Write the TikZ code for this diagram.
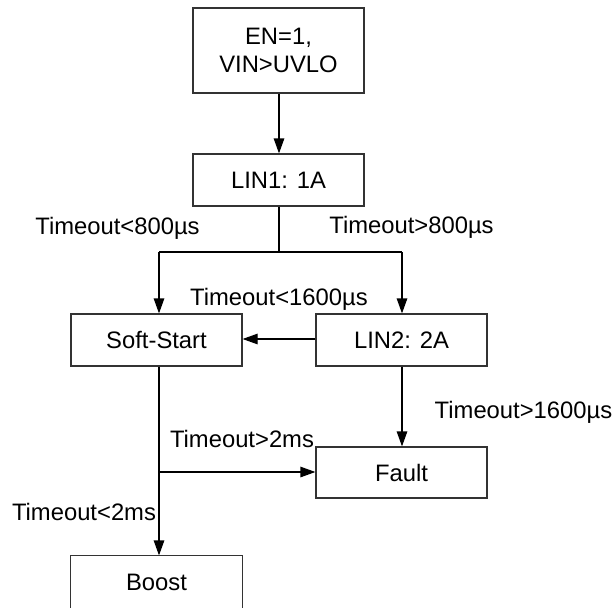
\documentclass[tikz,border=0pt]{standalone}
\usepackage{fontspec}
\setmainfont{Liberation Sans}
\usetikzlibrary{arrows.meta}
\begin{document}
\begin{tikzpicture}[x=1pt,y=-1pt,
  boxline/.style={draw=black!80,line width=1.2pt},
  box/.style={boxline,minimum width=171pt,minimum height=52pt,inner sep=0pt,align=center,font=\fontsize{23.8}{28}\selectfont},
  lbl/.style={inner sep=0pt,font=\fontsize{23.8}{28}\selectfont},
  conn/.style={draw=black,line width=1.2pt},
  arr/.style={conn,-{Triangle[length=15pt,width=10.5pt]}}]
\useasboundingbox (0,0) rectangle (615,607);
\node[box,minimum height=85pt] (en) at (278.5,50.5) {EN=1,\\VIN>UVLO};
\node[box] (lin1) at (278.5,180) {LIN1: 1A};
\node[box] (ss) at (156.5,340) {Soft-Start};
\node[box] (lin2) at (401.5,340) {LIN2: 2A};
\node[box,minimum height=51pt] (fault) at (401.5,472.5) {Fault};
\node[box,draw=none,minimum height=52pt] (boost) at (156.5,582) {Boost};
\draw[boxline] (boost.south west) -- (boost.north west) -- (boost.north east) -- (boost.south east);
% connectors
\coordinate (j1) at (279,252);
\coordinate (jl) at (159,252);
\coordinate (jr) at (402,252);
\coordinate (j2) at (159,472);
\draw[arr] (en.south -| 279,0) -- (lin1.north -| 279,0);
\draw[conn] (lin1.south -| 279,0) -- (j1);
\draw[conn] (jl) -- (jr);
\draw[arr] (jl) -- (ss.north -| jl);
\draw[arr] (jr) -- (lin2.north -| jr);
\draw[arr] (lin2.west |- 0,339) -- (ss.east |- 0,339);
\draw[arr] (ss.south -| jl) -- (boost.north -| jl);
\draw[arr] (j2) -- (fault.west |- j2);
\draw[arr] (lin2.south -| jr) -- (fault.north -| jr);
% labels
\node[lbl] (l1) at (117.5,228) {Timeout<800µs};
\node[lbl] (l2) at (411.5,227) {Timeout>800µs};
\node[lbl] (l3) at (279,299) {Timeout<1600µs};
\node[lbl] (l4) at (523.5,412) {Timeout>1600µs};
\node[lbl] (l5) at (242,439) {Timeout>2ms};
\node[lbl] (l6) at (84,511.5) {Timeout<2ms};
\end{tikzpicture}
\end{document}
